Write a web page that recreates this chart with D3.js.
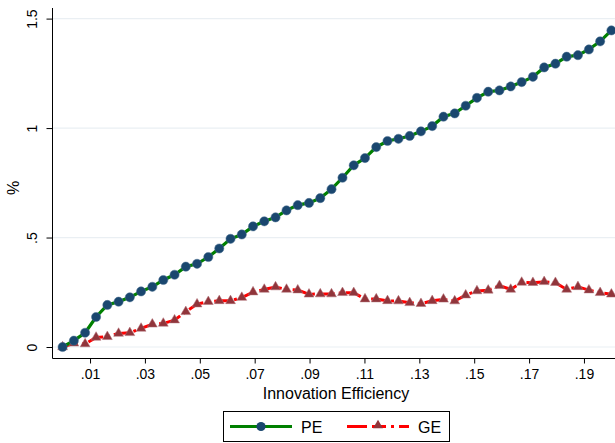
<!DOCTYPE html>
<html><head><meta charset="utf-8">
<script src="https://cdn.jsdelivr.net/npm/d3@7"></script>
<style>body{margin:0;background:#fff}svg{display:block}text{font-family:"Liberation Sans",Arial,Helvetica,sans-serif}</style>
</head><body><svg id="c" width="615" height="443"></svg>
<script>
const efficiency = [0,.0041,.0082,.0122,.0163,.0204,.0245,.0286,.0327,.0367,.0408,.0449,.0490,.0531,.0571,.0612,.0653,.0694,.0735,.0776,.0816,.0857,.0898,.0939,.0980,.1020,.1061,.1102,.1143,.1184,.1224,.1265,.1306,.1347,.1388,.1429,.1469,.1510,.1551,.1592,.1633,.1673,.1714,.1755,.1796,.1837,.1878,.1918,.1959,.2000];
const pe = [0,.029,.065,.137,.192,.207,.227,.254,.275,.306,.330,.367,.380,.411,.450,.494,.514,.551,.574,.592,.624,.648,.658,.680,.721,.773,.830,.863,.913,.941,.951,.964,.985,1.009,1.052,1.067,1.102,1.138,1.166,1.172,1.190,1.210,1.234,1.277,1.294,1.326,1.333,1.359,1.396,1.446];
const ge = [0,.017,.014,.044,.047,.062,.065,.085,.104,.108,.123,.161,.196,.207,.211,.211,.226,.251,.263,.274,.263,.260,.241,.242,.242,.248,.248,.219,.219,.211,.210,.202,.198,.211,.218,.210,.237,.256,.259,.280,.263,.295,.294,.298,.294,.263,.275,.260,.248,.241];
const xTicks = [.01,.03,.05,.07,.09,.11,.13,.15,.17,.19];
const xTickLabels = [".01",".03",".05",".07",".09",".11",".13",".15",".17",".19"];
const yTicks = [0,.5,1,1.5];
const yTickLabels = ["0",".5","1","1.5"];
const seriesNames = ["PE","GE"];

const svg = d3.select("#c");
const x = d3.scaleLinear().domain([0,0.2]).range([62.6,611.4]);
const y = d3.scaleLinear().domain([0,1.5]).range([347,18.6]);
const axX = 52.5, axY = 358.5;

// gridlines
svg.append("g").selectAll("line").data(yTicks).join("line")
  .attr("x1",axX).attr("x2",615).attr("y1",d=>y(d)).attr("y2",d=>y(d))
  .attr("stroke","#eaeff3").attr("stroke-width",1.2);

// y axis
const gy = svg.append("g").attr("transform",`translate(${axX},0)`)
  .call(d3.axisLeft(y).tickValues(yTicks).tickSize(6).tickSizeOuter(0).tickFormat((d,i)=>yTickLabels[i]));
gy.select(".domain").remove();
gy.selectAll(".tick line").attr("stroke","#000");
gy.selectAll(".tick text").attr("font-size",14).attr("fill","#000")
  .attr("transform","rotate(-90)").attr("text-anchor","middle")
  .attr("x",0).attr("y",-16).attr("dy",0);
svg.append("line").attr("x1",axX).attr("x2",axX).attr("y1",8).attr("y2",axY).attr("stroke","#000");

// x axis
const gx = svg.append("g").attr("transform",`translate(0,${axY})`)
  .call(d3.axisBottom(x).tickValues(xTicks).tickSize(5).tickSizeOuter(0).tickFormat((d,i)=>xTickLabels[i]));
gx.select(".domain").remove();
gx.selectAll(".tick line").attr("stroke","#000");
gx.selectAll(".tick text").attr("font-size",14).attr("fill","#000").attr("y",8).attr("dy","0.9em");
svg.append("line").attr("x1",axX).attr("x2",615).attr("y1",axY).attr("y2",axY).attr("stroke","#000");

// titles
svg.append("text").attr("x",336).attr("y",398.5).attr("text-anchor","middle").attr("font-size",16).text("Innovation Efficiency");
svg.append("text").attr("transform","translate(19,188) rotate(-90)").attr("text-anchor","middle").attr("font-size",16).text("%");

svg.append("defs").append("clipPath").attr("id","pc").append("rect")
  .attr("x",axX).attr("y",0).attr("width",615-axX).attr("height",axY);
const plot = svg.append("g").attr("clip-path","url(#pc)");

const idx = d3.range(efficiency.length);
const line = vals => d3.line().x(i=>x(efficiency[i])).y(i=>y(vals[i]))(idx);
const tri = d3.symbol().type(d3.symbolTriangle).size(42);

// GE
plot.append("path").attr("d",line(ge)).attr("fill","none").attr("stroke","#ff0000").attr("stroke-width",3)
  .attr("stroke-dasharray","16,4,3,4");
// PE
plot.append("path").attr("d",line(pe)).attr("fill","none").attr("stroke","#008000").attr("stroke-width",3.2);
plot.append("g").selectAll("path").data(idx).join("path")
  .attr("transform",i=>`translate(${x(efficiency[i])},${y(ge[i])})`).attr("d",tri)
  .attr("fill","#90353b").attr("stroke","#b07078").attr("stroke-width",0.5);
plot.append("g").selectAll("circle").data(idx).join("circle")
  .attr("cx",i=>x(efficiency[i])).attr("cy",i=>y(pe[i])).attr("r",4.6)
  .attr("fill","#1a476f").attr("stroke","#4a6f90").attr("stroke-width",0.5);

// legend
const lg = svg.append("g");
lg.append("rect").attr("x",223.5).attr("y",411.5).attr("width",226).attr("height",30).attr("fill","#fff").attr("stroke","#000");
lg.append("line").attr("x1",230).attr("x2",292).attr("y1",426.5).attr("y2",426.5).attr("stroke","#008000").attr("stroke-width",3.2);
lg.append("circle").attr("cx",261).attr("cy",426.5).attr("r",4.6).attr("fill","#1a476f");
lg.append("text").attr("x",301).attr("y",432.5).attr("font-size",16).text(seriesNames[0]);
lg.append("line").attr("x1",347).attr("x2",409).attr("y1",426.5).attr("y2",426.5).attr("stroke","#ff0000").attr("stroke-width",3).attr("stroke-dasharray","20,5,14,5,3,5");
lg.append("path").attr("transform","translate(378,425.5)").attr("d",tri).attr("fill","#90353b");
lg.append("text").attr("x",418).attr("y",432.5).attr("font-size",16).text(seriesNames[1]);
</script></body></html>
